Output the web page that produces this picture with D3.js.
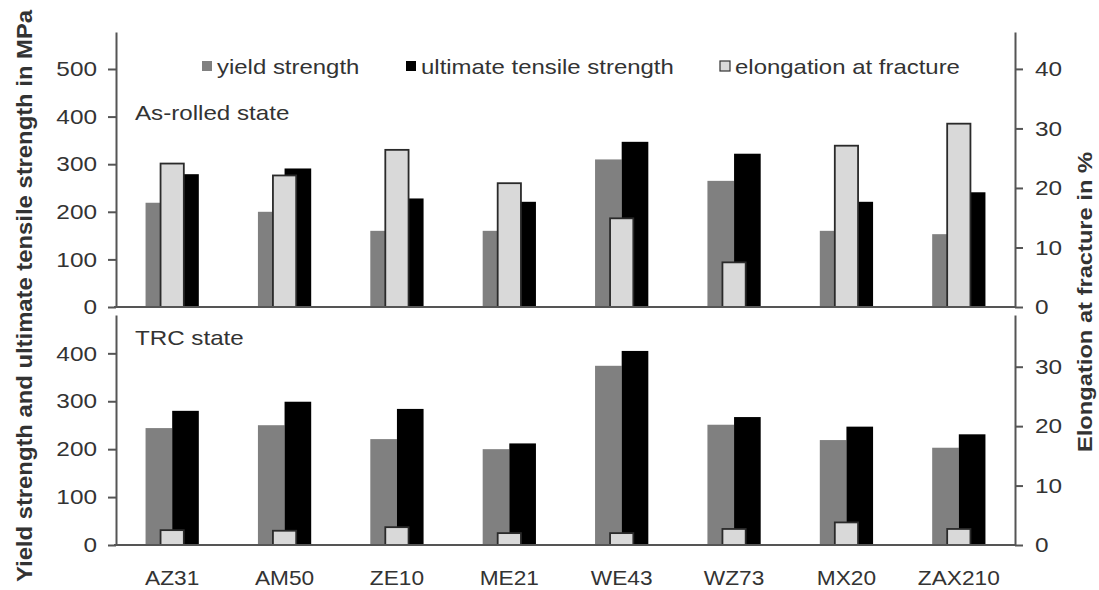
<!DOCTYPE html>
<html><head><meta charset="utf-8">
<script src="https://cdn.jsdelivr.net/npm/d3@7"></script>
<style>body{margin:0;background:#fff}svg{display:block}text{font-family:Arial,"Liberation Sans",sans-serif;fill:#333}</style>
</head><body>
<svg id="c" width="1099" height="590"></svg>
<script>
const categories = ["AZ31","AM50","ZE10","ME21","WE43","WZ73","MX20","ZAX210"];
// As-rolled state
const rolledYield = [219,200,160,160,310,265,160,153];
const rolledUTS   = [279,291,228,221,347,322,221,241];
const rolledElong = [24.1,22.1,26.4,20.8,14.9,7.5,27.1,30.8];
// TRC state
const trcYield = [244,250,221,200,374,251,219,203];
const trcUTS   = [280,299,284,212,405,267,247,231];
const trcElong = [2.5,2.4,3.0,2.0,2.0,2.7,3.8,2.7];
const seriesNames = ["yield strength","ultimate tensile strength","elongation at fracture"];
const topLeftTicks = [0,100,200,300,400,500];
const topRightTicks = [0,10,20,30,40];
const botLeftTicks = [0,100,200,300,400];
const botRightTicks = [0,10,20,30];
const panelTitles = ["As-rolled state","TRC state"];
const yTitleLeft = "Yield strength and ultimate tensile strength in MPa";
const yTitleRight = "Elongation at fracture in %";

const svg = d3.select("#c");
const X0 = 116, X1 = 1015;
const x = d3.scaleBand().domain(categories).range([X0, X1]);
const bw = x.bandwidth();
const pw = bw*0.237, ew = bw*0.207;
const C = {yield:"#808080", uts:"#000000", elong:"#d9d9d9", axis:"#555"};

function stretch(sel, f){
  sel.each(function(){
    const L = this.getComputedTextLength();
    d3.select(this).attr("textLength", L*f).attr("lengthAdjust", "spacingAndGlyphs");
  });
}

function panel(cfg){
  const yL = d3.scaleLinear().domain([0, cfg.lmax]).range([cfg.bottom, cfg.top]);
  const yR = d3.scaleLinear().domain([0, cfg.rmax]).range([cfg.bottom, cfg.top]);
  const g = svg.append("g");
  const cx = d => x(d) + bw/2;
  g.selectAll(".y").data(categories).join("rect")
    .attr("x", d => cx(d) - pw).attr("width", pw)
    .attr("y", (d,i) => yL(cfg.yv[i])).attr("height", (d,i) => cfg.bottom - yL(cfg.yv[i]))
    .attr("fill", C.yield);
  g.selectAll(".u").data(categories).join("rect")
    .attr("x", d => cx(d)).attr("width", pw)
    .attr("y", (d,i) => yL(cfg.uv[i])).attr("height", (d,i) => cfg.bottom - yL(cfg.uv[i]))
    .attr("fill", C.uts);
  g.selectAll(".e").data(categories).join("rect")
    .attr("x", d => cx(d) - ew/2).attr("width", ew)
    .attr("y", (d,i) => yR(cfg.ev[i])).attr("height", (d,i) => cfg.bottom - yR(cfg.ev[i]))
    .attr("fill", C.elong).attr("stroke", "#2a2a2a").attr("stroke-width", 1.8);
  const la = g.append("g").attr("transform", `translate(${X0},0)`)
    .call(d3.axisLeft(yL).tickValues(cfg.lt).tickSize(8).tickSizeOuter(0).tickPadding(11));
  const ra = g.append("g").attr("transform", `translate(${X1},0)`)
    .call(d3.axisRight(yR).tickValues(cfg.rt).tickSize(8).tickSizeOuter(0).tickPadding(12));
  [la, ra].forEach(a => {
    a.select(".domain").attr("stroke", C.axis).attr("stroke-width", 2);
    a.selectAll(".tick line").attr("stroke", C.axis).attr("stroke-width", 2);
    a.selectAll(".tick text").style("font-size", "21px").attr("fill", "#333");
    stretch(a.selectAll(".tick text"), 1.16);
  });
  g.append("line").attr("x1", X0 - 2).attr("x2", X1).attr("y1", cfg.bottom).attr("y2", cfg.bottom)
    .attr("stroke", C.axis).attr("stroke-width", 2);
  const t = g.append("text").attr("x", 135).attr("y", cfg.titleY).text(cfg.title).style("font-size", "21px");
  stretch(t, 1.15);
}

panel({top:32, bottom:307, lmax:577.7, rmax:46.2, yv:rolledYield, uv:rolledUTS, ev:rolledElong,
  lt:topLeftTicks, rt:topRightTicks, title:panelTitles[0], titleY:120});
panel({top:315, bottom:545, lmax:480, rmax:38.7, yv:trcYield, uv:trcUTS, ev:trcElong,
  lt:botLeftTicks, rt:botRightTicks, title:panelTitles[1], titleY:345});

// x labels
const xl = svg.append("g").selectAll("text").data(categories).join("text")
  .attr("x", d => x(d) + bw/2).attr("y", 585).attr("text-anchor", "middle")
  .style("font-size", "21px").text(d => d);
stretch(xl, 1.08);

// legend
const leg = [{n:seriesNames[0], f:C.yield, x:202, s:"none"},
             {n:seriesNames[1], f:C.uts, x:406, s:"none"},
             {n:seriesNames[2], f:C.elong, x:720, s:"#333"}];
const lg = svg.append("g").selectAll("g").data(leg).join("g");
lg.append("rect").attr("x", d => d.x).attr("y", 61).attr("width", 10).attr("height", 10)
  .attr("fill", d => d.f).attr("stroke", d => d.s).attr("stroke-width", 1.2);
const lt = lg.append("text").attr("x", d => d.x + 15).attr("y", 74).style("font-size", "21px").text(d => d.n);
stretch(lt, 1.14);

// axis titles
const tl = svg.append("text").attr("transform", "translate(32,296) rotate(-90)").attr("text-anchor", "middle")
  .style("font-size", "22px").style("font-weight", "bold").attr("fill", "#222").text(yTitleLeft);
tl.attr("textLength", 572).attr("lengthAdjust", "spacingAndGlyphs");
const tr = svg.append("text").attr("transform", "translate(1092,302) rotate(-90)").attr("text-anchor", "middle")
  .style("font-size", "21px").style("font-weight", "bold").attr("fill", "#222").text(yTitleRight);
tr.attr("textLength", 300).attr("lengthAdjust", "spacingAndGlyphs");
</script>
</body></html>
